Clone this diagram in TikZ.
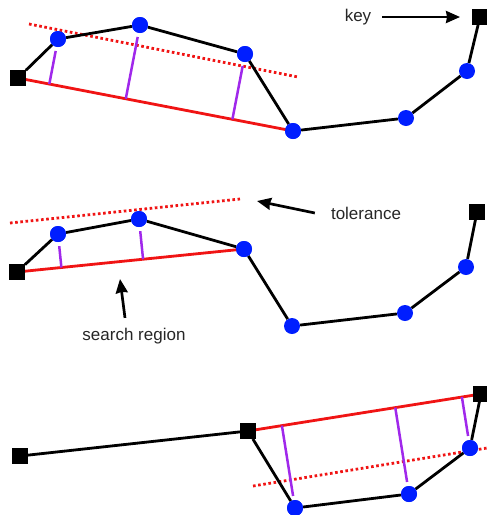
\documentclass[tikz,border=0pt]{standalone}
\usepackage{fontspec}
\setmainfont{Liberation Sans}
\usepackage{xcolor}
\usepackage{tikz}
\usetikzlibrary{arrows.meta, positioning, calc}

\definecolor{dotblue}{RGB}{0,30,255}
\definecolor{fitred}{RGB}{240,20,20}
\definecolor{perpviolet}{RGB}{160,40,235}

\begin{document}
\begin{tikzpicture}[
    x=1pt, y=-1pt,
    keypt/.style={rectangle, fill=black, minimum size=15.5pt, inner sep=0pt},
    midpt/.style={circle, fill=dotblue, minimum size=16pt, inner sep=0pt},
    curve/.style={line width=2.8pt, black},
    fitline/.style={line width=2.8pt, fitred},
    tolline/.style={line width=2.8pt, fitred, dash pattern=on 2.6pt off 2.6pt},
    perp/.style={line width=2.5pt, perpviolet, shorten <=4pt},
    arrow/.style={-{Stealth[length=14pt, width=12pt, inset=1pt]}, line width=2.7pt, black},
    label/.style={font=\fontsize{17}{20}\selectfont, text=black!85, inner sep=2pt}
]
    \useasboundingbox (0,0) rectangle (487,515);

    % ============================================================
    % TOP: FIRST SEARCH
    % ============================================================
    \node[keypt] (ka1) at (18,78) {};
    \node[midpt] (a1) at (58,39) {};
    \node[midpt] (a2) at (140,25) {};
    \node[midpt] (a3) at (245,54) {};
    \node[midpt] (a4) at (293,131) {};
    \node[midpt] (a5) at (406,118) {};
    \node[midpt] (a6) at (467,71) {};
    \node[keypt] (kb1) at (480,17) {};

    \coordinate (tol1-s) at (29,24);
    \coordinate (tol1-e) at (298,77);
    \draw[tolline] (tol1-s) -- (tol1-e);

    \draw[fitline] (ka1.center) -- (a4.center);
    \draw[perp] (a1) -- ($(ka1)!(a1)!(a4)$);
    \draw[perp] (a2) -- ($(ka1)!(a2)!(a4)$);
    \draw[perp] (a3) -- ($(ka1)!(a3)!(a4)$);

    \draw[curve] (ka1) -- (a1) -- (a2) -- (a3) -- (a4) -- (a5) -- (a6) -- (kb1);

    \node[keypt] at (ka1) {};
    \foreach \p in {a1,a2,a3,a4}
        \node[midpt] at (\p) {};

    \node[label] (keylabel) at (358,17) {key};
    \draw[arrow, shorten <=9pt, shorten >=12pt] (keylabel) -- (kb1);

    % ============================================================
    % MIDDLE: SPLIT AT THE FARTHEST POINT
    % ============================================================
    \node[keypt] (ka2) at (17,272) {};
    \node[midpt] (b1) at (58,234) {};
    \node[midpt] (b2) at (139,219) {};
    \node[midpt] (b3) at (244,249) {};
    \node[midpt] (b4) at (292,326) {};
    \node[midpt] (b5) at (405,313) {};
    \node[midpt] (b6) at (466,267) {};
    \node[keypt] (kb2) at (477,212) {};

    \coordinate (tol2-s) at (10,223);
    \coordinate (tol2-e) at (240,199);
    \draw[tolline] (tol2-s) -- (tol2-e);

    \draw[fitline] (ka2.center) -- (b3.center);
    \draw[perp] (b1) -- ($(ka2)!(b1)!(b3)$);
    \draw[perp] (b2) -- ($(ka2)!(b2)!(b3)$);

    \draw[curve] (ka2) -- (b1) -- (b2) -- (b3) -- (b4) -- (b5) -- (b6) -- (kb2);

    \node[keypt] at (ka2) {};
    \foreach \p in {b1,b2,b3}
        \node[midpt] at (\p) {};

    \node[label] (tollabel) at (366,213) {tolerance};
    \coordinate (tolmark) at (257,201);
    \draw[arrow] ($(tollabel.west)+(-14,0)$) -- (tolmark);

    \node[label] (searchlabel) at (134,336) {search region};
    \coordinate (searchmark) at (120,279);
    \draw[arrow] ($(searchlabel.north)+(-9,-8)$) -- (searchmark);

    % ============================================================
    % BOTTOM: KEYS SO FAR
    % ============================================================
    \node[keypt] (kc1) at (20,456) {};
    \node[keypt] (kc2) at (248,431) {};
    \node[midpt] (c1) at (295,508) {};
    \node[midpt] (c2) at (409,494) {};
    \node[midpt] (c3) at (470,448) {};
    \node[keypt] (kc3) at (481,394) {};

    \coordinate (tol3-s) at (253,486);
    \coordinate (tol3-e) at (487,448);
    \draw[tolline] (tol3-s) -- (tol3-e);

    \draw[fitline] (kc2.center) -- (kc3.center);
    \draw[perp] (c1) -- ($(kc2)!(c1)!(kc3)$);
    \draw[perp] (c2) -- ($(kc2)!(c2)!(kc3)$);
    \draw[perp] (c3) -- ($(kc2)!(c3)!(kc3)$);

    \draw[curve] (kc1) -- (kc2) -- (c1) -- (c2) -- (c3) -- (kc3);

    \foreach \p in {kc2,kc3}
        \node[keypt] at (\p) {};
    \foreach \p in {c1,c2,c3}
        \node[midpt] at (\p) {};

\end{tikzpicture}
\end{document}
